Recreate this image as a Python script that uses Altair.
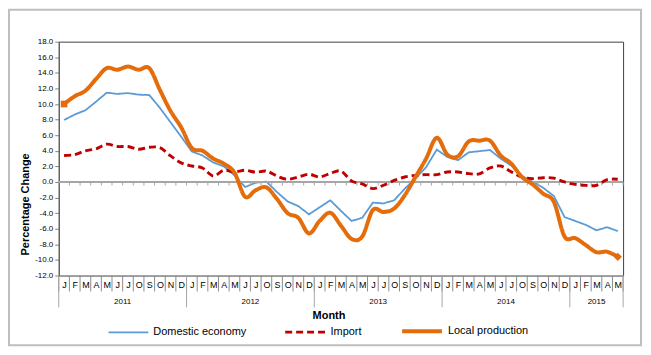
import altair as alt
import pandas as pd

# ---- data ----
years = ["2011", "2012", "2013", "2014", "2015"]
year_month_counts = [12, 12, 12, 12, 5]
month_letters = ["J", "F", "M", "A", "M", "J", "J", "O", "S", "O", "N", "D"]

domestic = [7.95, 8.65, 9.2, 10.3, 11.45, 11.3, 11.4, 11.2, 11.15, 9.5, 7.65, 5.8,
            3.9, 3.4, 2.5, 2.0, 0.85, -0.65, -0.1, 0.05, -1.3, -2.5, -3.1, -4.15,
            -3.25, -2.35, -3.7, -5.0, -4.6, -2.65, -2.75, -2.35, -0.85, 0.45, 1.9, 4.15,
            3.2, 2.8, 3.8, 3.95, 4.1, 3.0, 2.1, 0.75, 0.05, -0.75, -1.8, -4.5,
            -5.0, -5.5, -6.2, -5.8, -6.3]
imports = [3.4, 3.5, 4.0, 4.25, 4.85, 4.55, 4.55, 4.2, 4.45, 4.4, 3.35, 2.45,
           2.05, 1.8, 0.77, 1.5, 1.3, 1.5, 1.25, 1.4, 0.75, 0.35, 0.64, 1.0,
           0.64, 1.1, 1.4, 0.13, -0.25, -0.85, -0.42, 0.2, 0.64, 0.85, 0.94, 0.94,
           1.28, 1.28, 1.07, 1.05, 1.8, 2.05, 1.3, 0.65, 0.43, 0.55, 0.5, 0.0,
           -0.3, -0.43, -0.43, 0.3, 0.35]
local = [10.0, 11.0, 11.7, 13.2, 14.6, 14.4, 14.8, 14.4, 14.6, 11.8, 9.1, 7.0,
         4.35, 4.0, 3.0, 2.35, 1.2, -1.9, -1.05, -0.7, -2.2, -4.0, -4.6, -6.6,
         -5.0, -3.95, -5.6, -7.3, -7.0, -3.6, -3.85, -3.4, -1.7, 0.64, 3.0, 5.67,
         3.5, 3.3, 5.2, 5.3, 5.3, 3.4, 2.35, 0.64, -0.3, -1.5, -2.56, -7.0,
         -7.2, -8.1, -9.0, -8.95, -9.6]

series_names = ["Domestic economy", "Import", "Local production"]
series_colors = ["#5B9BD5", "#C00000", "#E46C0A"]

y_ticks = list(range(-12, 19, 2))

# ---- tables ----
n = len(domestic)
rows = []
for name, vals in zip(series_names, [domestic, imports, local]):
    for i, v in enumerate(vals):
        rows.append({"series": name, "idx": i, "pos": i + 0.5, "value": v})
df = pd.DataFrame(rows)

month_labels = [month_letters[i % 12] for i in range(n)]
bounds_df = pd.DataFrame({"b": list(range(n + 1))})
cum = [0]
for c in year_month_counts:
    cum.append(cum[-1] + c)
year_bounds_df = pd.DataFrame({"b": cum})
year_df = pd.DataFrame({"year": years,
                        "mid": [(cum[k] + cum[k + 1]) / 2 for k in range(len(years))]})

W, H = 567, 235
xscale = alt.Scale(domain=[0, n], nice=False, zero=False)
yscale = alt.Scale(domain=[-12, 18], nice=False, zero=False)

label_arr = "[" + ",".join("'" + m + "'" for m in month_labels) + "]"

x_axis = alt.Axis(values=[i + 0.5 for i in range(n)],
                  labelExpr=label_arr + "[floor(datum.value)]",
                  ticks=False, domain=False, grid=False,
                  labelFontSize=9, labelColor="#000000", labelPadding=5,
                  labelOverlap=False, labelFlush=False, labelBound=False,
                  title="Month", titleFontSize=11, titleFontWeight="bold",
                  titleColor="#000000", titleX=271, titleY=40,
                  titleBaseline="middle", titleAlign="center")
y_axis = alt.Axis(values=y_ticks,
                  labelExpr="datum.value < 0 ? '-' + format(-datum.value, '.1f') : format(datum.value, '.1f')",
                  grid=False, tickSize=4, tickColor="#808080", domainColor="#606060",
                  labelFontSize=8, labelColor="#000000", labelPadding=2,
                  title="Percentage Change", titleFontSize=11, titleFontWeight="bold",
                  titleColor="#000000", titleX=-33, titleY=163, titleBaseline="middle",
                  titleAlign="center", titleAngle=-90)

legend_common = dict(title=None, orient="none", direction="horizontal",
                     legendX=49, legendY=269)

color_enc = alt.Color("series:N",
                      scale=alt.Scale(domain=series_names, range=series_colors),
                      legend=alt.Legend(symbolType="stroke", symbolSize=1600,
                                        labelFontSize=11, labelColor="#000000",
                                        labelOffset=4, columnPadding=32, **legend_common))
dash_enc = alt.StrokeDash("series:N",
                          scale=alt.Scale(domain=series_names, range=[[1, 0], [7, 4], [1, 0]]),
                          legend=alt.Legend(**legend_common))
width_enc = alt.StrokeWidth("series:O",
                            scale=alt.Scale(domain=series_names, range=[1.8, 4], padding=0),
                            legend=alt.Legend(**legend_common))

base = alt.Chart(df)

X_POS = alt.X("pos:Q", scale=xscale, axis=x_axis)
Y_VAL = alt.Y("value:Q", scale=yscale, axis=y_axis)

def series_layer(name, interp):
    return base.transform_filter(alt.datum.series == name).mark_line(interpolate=interp).encode(
        x=X_POS, y=Y_VAL,
        color=color_enc, strokeDash=dash_enc, strokeWidth=width_enc,
        order="idx:Q",
    )

zero_line = alt.Chart(pd.DataFrame({"z": [0]})).mark_rule(color="#A6A6A6", strokeWidth=2).encode(
    y=alt.Y("z:Q", scale=yscale, axis=y_axis))
zero_ticks = alt.Chart(bounds_df).mark_rule(color="#A6A6A6", strokeWidth=1).encode(
    x=alt.X("b:Q", scale=xscale, axis=x_axis),
    y=alt.YDatum(0, scale=yscale, axis=y_axis), y2=alt.Y2Datum(-0.45))

month_sep = alt.Chart(bounds_df).mark_rule(color="#8C8C8C", strokeWidth=1).encode(
    x=alt.X("b:Q", scale=xscale, axis=x_axis),
    y=alt.value(H), y2=alt.value(H + 16))
year_sep = alt.Chart(year_bounds_df).mark_rule(color="#A6A6A6", strokeWidth=1).encode(
    x=alt.X("b:Q", scale=xscale, axis=x_axis),
    y=alt.value(H), y2=alt.value(H + 32))
year_text = alt.Chart(year_df).mark_text(fontSize=8, baseline="middle", color="#000000").encode(
    x=alt.X("mid:Q", scale=xscale, axis=x_axis),
    y=alt.value(H + 27), text="year:N")

first_marker = base.transform_filter(
    (alt.datum.series == series_names[2]) & (alt.datum.idx == 0)
).mark_point(shape="square", filled=True, size=45, color=series_colors[2], opacity=1).encode(
    x=X_POS, y=Y_VAL)
last_marker = base.transform_filter(
    (alt.datum.series == series_names[2]) & (alt.datum.idx == n - 1)
).mark_point(shape="diamond", filled=True, size=70, color=series_colors[2], opacity=1).encode(
    x=X_POS, y=Y_VAL)

frame = alt.Chart(pd.DataFrame({"f": [0]})).mark_rect(
    fillOpacity=0, stroke="#BFBFBF", strokeWidth=2).encode(
    x=alt.value(-50), x2=alt.value(585), y=alt.value(-32), y2=alt.value(305))

chart = alt.layer(
    series_layer(series_names[0], "linear"),
    zero_line, zero_ticks,
    series_layer(series_names[1], "cardinal"),
    series_layer(series_names[2], "cardinal"),
    first_marker, last_marker,
    month_sep, year_sep, year_text, frame,
).properties(
    width=W, height=H,
    autosize=alt.AutoSizeParams(type="none"),
    padding={"left": 51, "top": 33, "right": 20, "bottom": 72},
).configure(
    font="Liberation Sans"
).configure_view(
    stroke="#404040", strokeWidth=1
)

chart.save("out.html", embed_options={"renderer": "svg", "actions": False})
